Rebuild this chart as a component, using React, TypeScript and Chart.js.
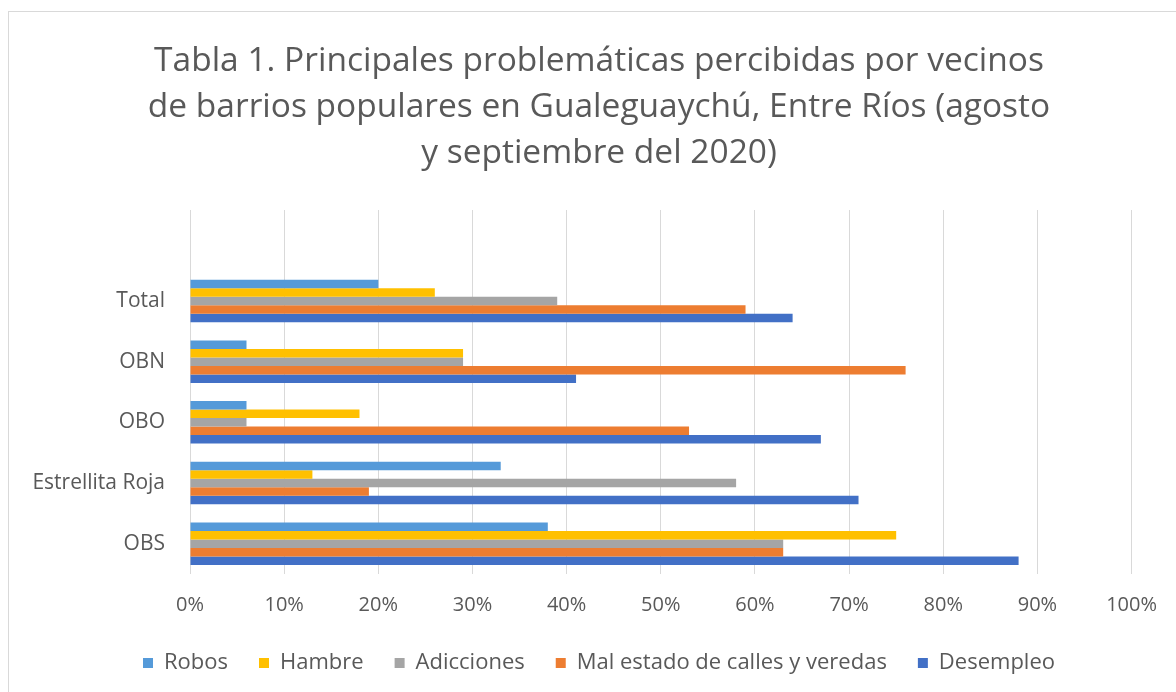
import React, { useEffect, useRef } from 'react';
import { Chart, registerables } from 'chart.js';

Chart.register(...registerables);

const titleLines = [
  'Tabla 1. Principales problemáticas percibidas por vecinos',
  'de barrios populares en Gualeguaychú, Entre Ríos (agosto',
  'y septiembre del 2020)',
];
const categories = ['Total', 'OBN', 'OBO', 'Estrellita Roja', 'OBS'];
const seriesNames = ['Robos', 'Hambre', 'Adicciones', 'Mal estado de calles y veredas', 'Desempleo'];
const seriesColors = ['#559AD9', '#FFC000', '#A5A5A5', '#ED7D31', '#4270C6'];
const robos = [20, 6, 6, 33, 38];
const hambre = [26, 29, 18, 13, 75];
const adicciones = [39, 29, 6, 58, 63];
const malEstado = [59, 76, 53, 19, 63];
const desempleo = [64, 41, 67, 71, 88];
const xMin = 0;
const xMax = 100;
const xStep = 10;

const FONT = '"Open Sans"';
const TEXT = '#595959';

export default function App() {
  const ref = useRef<HTMLCanvasElement | null>(null);
  useEffect(() => {
    if (!ref.current) return;
    const values = [robos, hambre, adicciones, malEstado, desempleo];
    const chart = new Chart(ref.current, {
      type: 'bar',
      data: {
        labels: ['', ...categories],
        datasets: values.map((v, i) => ({
          label: seriesNames[i],
          data: [null, ...v],
          backgroundColor: seriesColors[i],
          borderWidth: 0,
          barPercentage: 1,
          categoryPercentage: 0.7,
        })),
      },
      options: {
        indexAxis: 'y',
        responsive: false,
        animation: false,
        layout: { padding: { left: 28, right: 6, top: 0, bottom: 8 } },
        plugins: {
          title: {
            display: true,
            text: titleLines,
            color: TEXT,
            font: { family: FONT, size: 33.5, weight: 'normal', lineHeight: '46px' },
            padding: { top: 38, bottom: 34 },
          },
          legend: {
            position: 'bottom',
            labels: {
              boxWidth: 10,
              boxHeight: 10,
              padding: 31,
              color: TEXT,
              font: { family: FONT, size: 22 },
            },
          },
          tooltip: { enabled: false },
        },
        scales: {
          x: {
            min: xMin,
            max: xMax,
            ticks: {
              stepSize: xStep,
              callback: (v: any) => v + '%',
              color: TEXT,
              font: { family: FONT, size: 20 },
              padding: 19,
            },
            grid: { color: '#D9D9D9', drawTicks: false },
            border: { display: false },
            afterFit: (s: any) => { s.height = 47; },
          },
          y: {
            ticks: { color: TEXT, font: { family: FONT, size: 21 }, padding: 17 },
            grid: { display: false },
            border: { display: false },
            afterFit: (s: any) => { s.width = 162; },
          },
        },
      },
    });
    return () => chart.destroy();
  }, []);
  return (
    <div style={{ position: 'fixed', left: 0, top: 0, width: 1176, height: 692, background: '#fff' }}>
      <div style={{ position: 'absolute', left: 8, top: 11, width: 1200, height: 700, border: '1px solid #D9D9D9' }} />
      <canvas ref={ref} width={1176} height={692} style={{ position: 'absolute', left: 0, top: 0 }} />
    </div>
  );
}
